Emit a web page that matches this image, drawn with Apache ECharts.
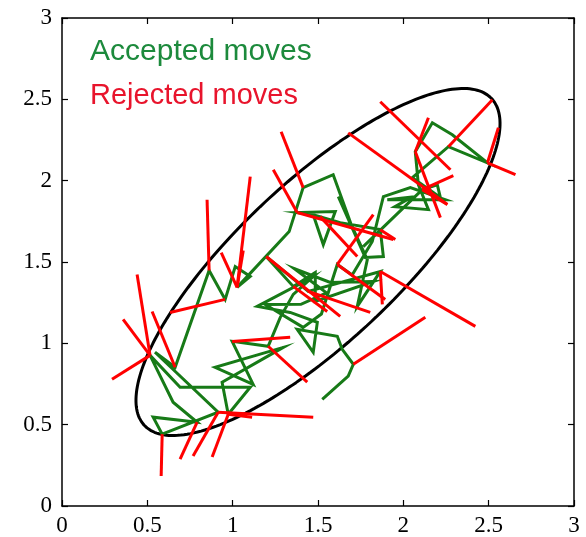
<!DOCTYPE html>
<html>
<head>
<meta charset="utf-8">
<script src="https://cdn.jsdelivr.net/npm/echarts@6/dist/echarts.min.js"></script>
<style>html,body{margin:0;padding:0;background:#fff;}#main{width:586px;height:537px;}</style>
</head>
<body>
<div id="main"></div>
<script>
// Axis ticks
const xTicks = [0, 0.5, 1, 1.5, 2, 2.5, 3];
const yTicks = [0, 0.5, 1, 1.5, 2, 2.5, 3];
// Target contour: centre, semi-axes, rotation (deg)
const ellipseCenter = [1.5, 1.5];
const ellipseAxes = [1.43, 0.48];
const ellipseAngle = 45;
// Accepted moves (random-walk chain)
const acceptedPath = [
  [1.525,0.656],[1.677,0.798],[1.707,0.871],[1.642,0.963],[1.613,1.043],[1.378,1.086],
  [1.472,0.945],[1.496,1.129],[1.337,1.190],[1.144,1.227],[1.466,1.405],[1.355,1.301],
  [1.279,1.160],[1.208,0.982],[0.997,1.012],[1.120,0.748],[0.897,0.853],[1.296,0.975],
  [0.938,0.761],[0.974,0.564],[1.103,0.730],[0.692,0.730],[0.516,0.926],[0.651,0.638],
  [0.792,0.515],[0.534,0.546],[0.587,0.442],[0.915,0.577],[0.545,0.945],[0.663,0.853],
  [0.862,1.448],[0.956,1.270],[1.015,1.472],[1.103,1.411],[1.026,1.344],[1.331,1.687],
  [1.413,1.957],[1.589,2.037],[1.701,1.712],[1.513,1.779],[1.378,1.804],[1.601,1.810],
  [1.531,1.607],[1.472,1.791],[1.630,1.742],[1.865,1.699],[1.883,1.534],[1.777,1.528],
  [1.619,1.902],[1.789,1.515],[1.730,1.227],[1.865,1.442],[1.443,1.319],[1.196,1.534],
  [1.355,1.350],[1.484,1.436],[1.484,1.258],[1.824,1.380],[1.572,1.374],[1.360,1.460],
  [1.550,1.310],[1.400,1.240],[1.191,1.239],[1.413,1.098],[1.520,1.180],[1.613,1.485],
  [1.700,1.420],[1.818,1.626],[1.883,1.902],[2.041,1.957],[2.246,1.883],[1.906,1.883],
  [2.050,1.900],[1.950,1.840],[2.147,1.822],[2.088,1.975],[2.070,2.178],[2.170,2.356],
  [2.287,2.282],[2.493,2.110],[2.264,2.209],[2.053,2.018],[2.217,1.896],[2.199,1.975],
  [2.111,1.945],[1.765,1.595]
];
// Rejected moves: [fromX, fromY, proposedX, proposedY]
const rejectedMoves = [
  [0.516,0.926,0.293,0.779],[0.516,0.926,0.358,1.147],[0.516,0.926,0.440,1.423],
  [0.663,0.853,0.528,1.196],[0.956,1.270,0.633,1.190],[0.587,0.442,0.581,0.184],
  [0.792,0.515,0.692,0.288],[0.915,0.577,0.768,0.307],[0.974,0.564,0.880,0.301],
  [0.915,0.577,1.472,0.546],[0.974,0.564,1.114,0.546],[0.997,1.012,1.337,1.037],
  [1.208,0.982,1.437,0.761],[0.862,1.448,0.850,1.883],[1.026,1.344,1.103,2.025],
  [1.026,1.344,1.062,1.571],[1.026,1.344,0.933,1.558],[1.413,1.957,1.284,2.301],
  [1.378,1.804,1.238,2.067],[1.378,1.804,1.941,1.638],[1.196,1.534,1.630,1.166],
  [1.443,1.319,1.806,1.190],[1.355,1.350,1.554,1.196],[1.613,1.485,1.824,1.791],
  [1.865,1.442,1.877,1.239],[1.865,1.442,2.422,1.104],[1.613,1.485,1.894,1.270],
  [1.707,0.871,2.129,1.160],[2.276,2.067,1.865,2.485],[2.258,1.853,1.677,2.294],
  [2.070,2.178,2.147,2.387],[2.264,2.209,2.522,2.497],[2.493,2.110,2.557,2.325],
  [2.493,2.110,2.657,2.037],[2.111,1.945,2.293,2.031],[2.070,2.178,2.217,1.773],
  [2.111,1.945,2.258,1.853],[1.865,1.699,1.953,1.638],[1.513,1.779,1.730,1.534]
];
const legendLabels = ['Accepted moves', 'Rejected moves'];

const ellipsePts = [];
(function(){
  const th = ellipseAngle * Math.PI / 180, N = 240;
  for (let i = 0; i <= N; i++) {
    const t = 2 * Math.PI * i / N;
    const u = ellipseAxes[0] * Math.cos(t), v = ellipseAxes[1] * Math.sin(t);
    ellipsePts.push([ellipseCenter[0] + u * Math.cos(th) - v * Math.sin(th),
                     ellipseCenter[1] + u * Math.sin(th) + v * Math.cos(th)]);
  }
})();

const chart = echarts.init(document.getElementById('main'), null, {renderer: 'canvas'});
const axisCommon = {
  type: 'value', min: 0, max: 3, interval: 0.5,
  axisLine: {show: true, onZero: false, lineStyle: {color: '#000', width: 1.5}},
  axisTick: {show: true, inside: true, length: 6, lineStyle: {color: '#000', width: 1.2}},
  splitLine: {show: false}
};
const labelStyle = {color: '#000', fontFamily: 'Liberation Serif', fontSize: 23};
chart.setOption({
  animation: false,
  backgroundColor: '#fff',
  grid: {left: 62, right: 12, top: 18, bottom: 30},
  xAxis: [
    Object.assign({}, axisCommon, {position: 'bottom', axisLabel: Object.assign({margin: 8, formatter: v => xTicks.includes(v) ? String(v) : ''}, labelStyle)}),
    Object.assign({}, axisCommon, {position: 'top', axisLabel: {show: false}})
  ],
  yAxis: [
    Object.assign({}, axisCommon, {position: 'left', axisLabel: Object.assign({margin: 10, formatter: v => yTicks.includes(v) ? String(v) : ''}, labelStyle)}),
    Object.assign({}, axisCommon, {position: 'right', axisLabel: {show: false}})
  ],
  series: [
    {type: 'line', data: ellipsePts, showSymbol: false, silent: true, z: 1,
     lineStyle: {color: '#000', width: 3}},
    {type: 'line', name: legendLabels[0], data: acceptedPath, showSymbol: false, z: 2,
     lineStyle: {color: '#177a17', width: 3, join: 'miter'}},
    {type: 'lines', name: legendLabels[1], coordinateSystem: 'cartesian2d', z: 3,
     lineStyle: {color: '#ff0000', width: 3, opacity: 1},
     data: rejectedMoves.map(r => ({coords: [[r[0], r[1]], [r[2], r[3]]]}))}
  ],
  graphic: [
    {type: 'text', left: 90, top: 37, z: 10, style: {text: legendLabels[0], fill: '#1c8a3c', font: '30px "Liberation Sans"'}},
    {type: 'text', left: 90, top: 81, z: 10, style: {text: legendLabels[1], fill: '#e8142c', font: '29px "Liberation Sans"'}}
  ]
});
</script>
</body>
</html>
